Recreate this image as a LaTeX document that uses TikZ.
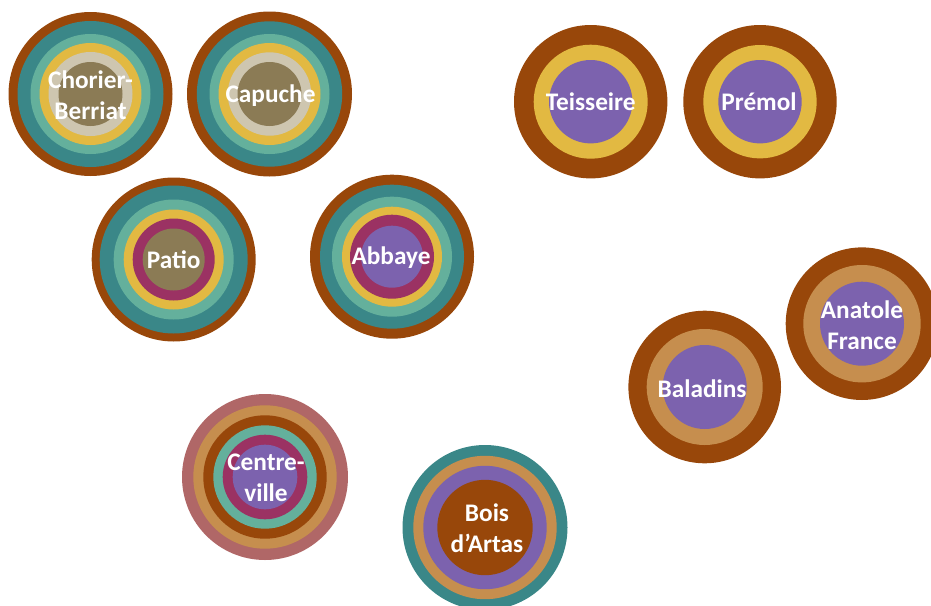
\documentclass[tikz,border=0pt]{standalone}
\usepackage{fontspec}
\setmainfont{Carlito}
\usepackage{xcolor}
\usepackage{tikz}
\definecolor{brn}{HTML}{98470A}
\definecolor{tealD}{HTML}{3A8788}
\definecolor{tealL}{HTML}{64B09C}
\definecolor{ylw}{HTML}{E2B942}
\definecolor{beige}{HTML}{CEC6B0}
\definecolor{khaki}{HTML}{8B7B55}
\definecolor{plum}{HTML}{9B3263}
\definecolor{violet}{HTML}{7C62AE}
\definecolor{tanc}{HTML}{C68E4E}
\definecolor{rose}{HTML}{B06767}
\tikzset{
  stop/.style={text=white, font=\bfseries\fontsize{25.3}{31}\selectfont, align=center, inner sep=0pt},
}

\begin{document}
\begin{tikzpicture}[x=1pt,y=-1pt]
\useasboundingbox (0,0) rectangle (931,605);
\fill[brn] (90.5,94) circle (82pt);
\fill[tealD] (90.5,94) circle (73pt);
\fill[tealL] (90.5,94) circle (60pt);
\fill[ylw] (90.5,94) circle (51pt);
\fill[beige] (90.5,94) circle (42pt);
\fill[khaki] (90.5,94) circle (32pt);
\node[stop] (chorier) at (90.5,95) {Chorier-\\Berriat};

\fill[brn] (269.5,94) circle (82.5pt);
\fill[tealD] (269.5,94) circle (72.7pt);
\fill[tealL] (269.5,94) circle (60pt);
\fill[ylw] (269.5,94) circle (51pt);
\fill[beige] (269.5,94) circle (41.7pt);
\fill[khaki] (269.5,94) circle (32pt);
\node[stop] (capuche) at (270.5,96) {Capuche};

\fill[brn] (173.7,259.5) circle (82pt);
\fill[tealD] (173.7,259.5) circle (74pt);
\fill[tealL] (173.7,259.5) circle (60pt);
\fill[ylw] (173.7,259.5) circle (50pt);
\fill[plum] (173.7,259.5) circle (41pt);
\fill[khaki] (173.7,259.5) circle (31pt);
\node[stop] (patio) at (173.7,260) {Patio};

\fill[brn] (392,256.7) circle (82pt);
\fill[tealD] (392,256.7) circle (72pt);
\fill[tealL] (392,256.7) circle (60pt);
\fill[ylw] (392,256.7) circle (50pt);
\fill[plum] (392,256.7) circle (42pt);
\fill[violet] (392,256.7) circle (31pt);
\node[stop] (abbaye) at (391,258) {Abbaye};

\fill[brn] (590.7,101.7) circle (76.7pt);
\fill[ylw] (590.7,101.7) circle (57pt);
\fill[violet] (590.7,101.7) circle (41.7pt);
\node[stop] (teisseire) at (590.7,102) {Teisseire};

\fill[brn] (760,101.7) circle (76.7pt);
\fill[ylw] (760,101.7) circle (56.7pt);
\fill[violet] (760,101.7) circle (41.7pt);
\node[stop] (premol) at (759,102) {Prémol};

\fill[brn] (704.7,387) circle (76.3pt);
\fill[tanc] (704.7,387) circle (58pt);
\fill[violet] (704.7,387) circle (42pt);
\node[stop] (baladins) at (702,389) {Baladins};

\fill[brn] (862,323.7) circle (76.3pt);
\fill[tanc] (862,323.7) circle (58.7pt);
\fill[violet] (862,323.7) circle (42pt);
\node[stop] (anatole) at (862,325) {Anatole\\France};

\fill[rose] (265,477) circle (83pt);
\fill[tanc] (265,477) circle (71.7pt);
\fill[brn] (265,477) circle (61.7pt);
\fill[tealL] (265,477) circle (51.7pt);
\fill[plum] (265,477) circle (42.3pt);
\fill[violet] (265,477) circle (32.3pt);
\node[stop] (centre) at (266,478) {Centre-\\ville};

\fill[tealD] (485,527.5) circle (82.5pt);
\fill[tanc] (485,527.5) circle (71.7pt);
\fill[violet] (485,527.5) circle (61.7pt);
\fill[brn] (485,527.5) circle (47.7pt);
\node[stop] (bois) at (487,528) {Bois\\d’Artas};
\end{tikzpicture}
\end{document}
